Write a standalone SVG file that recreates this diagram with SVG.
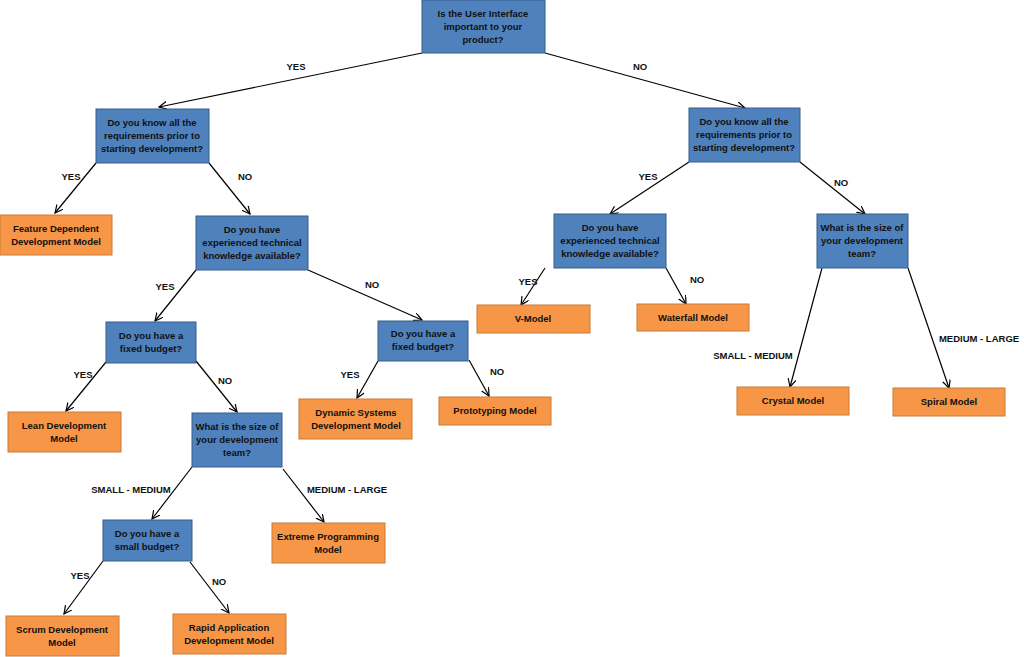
<svg xmlns="http://www.w3.org/2000/svg" width="1024" height="657" viewBox="0 0 1024 657">
<style>
.q{fill:#4F81BD;stroke:#385D8A;stroke-width:1}
.a{fill:#F79646;stroke:#C77A3A;stroke-width:1}
text{font-family:"Liberation Sans",Arial,sans-serif;font-weight:bold;font-size:9.5px;fill:#111;text-anchor:middle}
.l{stroke:#000;stroke-width:1.2;fill:none;marker-end:url(#ar)}
</style>
<defs><marker id="ar" markerWidth="10" markerHeight="10" refX="8" refY="4" orient="auto" markerUnits="userSpaceOnUse"><path d="M0,0 L8,4 L0,8" fill="none" stroke="#000" stroke-width="1.2"/></marker></defs>
<rect width="1024" height="657" fill="#fff"/>
<g id="connectors">
<line class="l" x1="422" y1="53" x2="159" y2="107"/>
<line class="l" x1="545" y1="53" x2="745" y2="108"/>
<line class="l" x1="96" y1="163" x2="55" y2="213"/>
<line class="l" x1="209" y1="163" x2="250" y2="214"/>
<line class="l" x1="196" y1="270" x2="155" y2="321"/>
<line class="l" x1="308" y1="270" x2="422" y2="320"/>
<line class="l" x1="106" y1="362" x2="66" y2="411"/>
<line class="l" x1="196" y1="361" x2="237" y2="412"/>
<line class="l" x1="378" y1="361" x2="357" y2="398"/>
<line class="l" x1="469" y1="360" x2="489" y2="396"/>
<line class="l" x1="192" y1="467" x2="152" y2="519"/>
<line class="l" x1="283" y1="469" x2="324" y2="522"/>
<line class="l" x1="103" y1="561" x2="64" y2="614"/>
<line class="l" x1="190" y1="562" x2="229" y2="613"/>
<line class="l" x1="689" y1="162" x2="610" y2="214"/>
<line class="l" x1="800" y1="162" x2="865" y2="214"/>
<line class="l" x1="545" y1="268" x2="521" y2="305"/>
<line class="l" x1="666" y1="268" x2="686" y2="304"/>
<line class="l" x1="822" y1="268" x2="790" y2="387"/>
<line class="l" x1="908" y1="268" x2="949" y2="388"/>
<text x="296" y="70">YES</text><text x="640" y="70">NO</text>
<text x="71" y="180">YES</text><text x="245" y="180">NO</text>
<text x="165" y="290">YES</text><text x="372" y="288">NO</text>
<text x="83" y="378">YES</text><text x="225" y="384">NO</text>
<text x="350" y="378">YES</text><text x="497" y="375">NO</text>
<text x="131" y="493">SMALL - MEDIUM</text><text x="347" y="493">MEDIUM - LARGE</text>
<text x="80" y="579">YES</text><text x="219" y="585">NO</text>
<text x="648" y="180">YES</text><text x="841" y="186">NO</text>
<text x="528" y="285">YES</text><text x="697" y="283">NO</text>
<text x="753" y="359">SMALL - MEDIUM</text><text x="979" y="342">MEDIUM - LARGE</text>
</g>
<g id="root"><rect class="q" x="422" y="0" width="123" height="53"/><text x="483" y="17">Is the User Interface</text><text x="483" y="30">important to your</text><text x="483" y="43">product?</text></g>
<g id="q1l"><rect class="q" x="96" y="109" width="113" height="54"/><text x="152" y="126">Do you know all the</text><text x="152" y="139">requirements prior to</text><text x="152" y="152">starting development?</text></g>
<g id="feature"><rect class="a" x="0" y="215" width="112" height="40"/><text x="56" y="232">Feature Dependent</text><text x="56" y="245">Development Model</text></g>
<g id="q2l"><rect class="q" x="196" y="216" width="112" height="54"/><text x="252" y="233">Do you have</text><text x="252" y="246">experienced technical</text><text x="252" y="259">knowledge available?</text></g>
<g id="fb1"><rect class="q" x="106" y="322" width="90" height="41"/><text x="151" y="339">Do you have a</text><text x="151" y="352">fixed budget?</text></g>
<g id="lean"><rect class="a" x="8" y="412" width="113" height="40"/><text x="64" y="429">Lean Development</text><text x="64" y="442">Model</text></g>
<g id="size1"><rect class="q" x="192" y="413" width="90" height="54"/><text x="237" y="430">What is the size of</text><text x="237" y="443">your development</text><text x="237" y="456">team?</text></g>
<g id="sb"><rect class="q" x="103" y="520" width="89" height="41"/><text x="147" y="537">Do you have a</text><text x="147" y="550">small budget?</text></g>
<g id="xp"><rect class="a" x="272" y="523" width="113" height="40"/><text x="328" y="540">Extreme Programming</text><text x="328" y="553">Model</text></g>
<g id="scrum"><rect class="a" x="6" y="616" width="113" height="40"/><text x="62" y="633">Scrum Development</text><text x="62" y="646">Model</text></g>
<g id="rad"><rect class="a" x="173" y="614" width="113" height="40"/><text x="229" y="631">Rapid Application</text><text x="229" y="644">Development Model</text></g>
<g id="fb2"><rect class="q" x="378" y="321" width="90" height="40"/><text x="423" y="337">Do you have a</text><text x="423" y="350">fixed budget?</text></g>
<g id="dsdm"><rect class="a" x="299" y="399" width="113" height="40"/><text x="356" y="416">Dynamic Systems</text><text x="356" y="429">Development Model</text></g>
<g id="proto"><rect class="a" x="439" y="397" width="112" height="28"/><text x="495" y="414">Prototyping Model</text></g>
<g id="q1r"><rect class="q" x="689" y="108" width="111" height="54"/><text x="744" y="125">Do you know all the</text><text x="744" y="138">requirements prior to</text><text x="744" y="151">starting development?</text></g>
<g id="q2r"><rect class="q" x="554" y="214" width="112" height="54"/><text x="610" y="231">Do you have</text><text x="610" y="244">experienced technical</text><text x="610" y="257">knowledge available?</text></g>
<g id="size2"><rect class="q" x="817" y="214" width="91" height="54"/><text x="862" y="231">What is the size of</text><text x="862" y="244">your development</text><text x="862" y="257">team?</text></g>
<g id="vmodel"><rect class="a" x="477" y="305" width="113" height="28"/><text x="533" y="322">V-Model</text></g>
<g id="waterfall"><rect class="a" x="637" y="304" width="112" height="27"/><text x="693" y="321">Waterfall Model</text></g>
<g id="crystal"><rect class="a" x="737" y="387" width="112" height="28"/><text x="793" y="404">Crystal Model</text></g>
<g id="spiral"><rect class="a" x="893" y="388" width="112" height="28"/><text x="949" y="405">Spiral Model</text></g>
</svg>
